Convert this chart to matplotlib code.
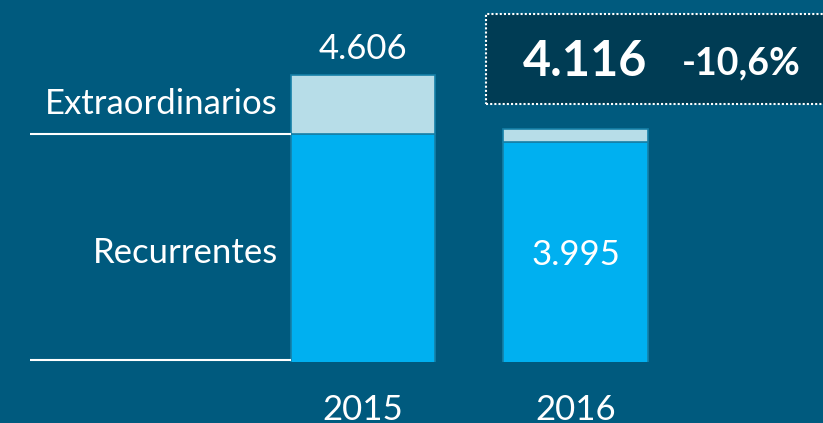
import matplotlib
matplotlib.use("Agg")
import matplotlib.pyplot as plt
from matplotlib.patches import Rectangle

# ===== DATA =====
years = ["2015", "2016"]
recurrentes = [4.07, 3.995]
extraordinarios = [0.536, 0.121]
totals = ["4.606", "4.116"]
rec_label_2016 = "3.995"
change = "-10,6%"
base = 2.0  # axis starts here (broken scale in original)

# ===== STYLE =====
BG = "#005a7e"
BLUE = "#00b0f0"
LIGHT = "#b7dde8"
EDGE = "#1580a8"
BOX = "#003c54"
plt.rcParams["font.family"] = ["Lato", "DejaVu Sans"]
FS = 25

W, H = 823, 423
fig = plt.figure(figsize=(W / 100, H / 100), dpi=100, facecolor=BG)

# axes: bottom edge at bar baseline
px_per_x = 212.5
px_per_y = 110.2
bottom_px = 361.7
ax = fig.add_axes([0, (H - bottom_px) / H, 1, bottom_px / H])
ax.set_facecolor(BG)
x0_px = 363
ax.set_xlim(-x0_px / px_per_x, (W - x0_px) / px_per_x)
ax.set_ylim(base, base + bottom_px / px_per_y)
ax.axis("off")

x = [0, 1]
width = 0.682
ax.bar(x, recurrentes, width=width, color=BLUE, edgecolor=EDGE, linewidth=1.2)
ax.bar(x, extraordinarios, width=width, bottom=recurrentes, color=LIGHT,
       edgecolor=EDGE, linewidth=1.2)

# guide lines on the left
left = -1.565
ax.plot([left, x[0] - width / 2], [recurrentes[0], recurrentes[0]],
        color="white", lw=1.5, solid_capstyle="butt")
ax.plot([left, x[0] - width / 2], [base + 0.018, base + 0.018],
        color="white", lw=1.5, solid_capstyle="butt", clip_on=False)

# labels
ax.text(x[0] - width / 2 - 0.06, recurrentes[0] + extraordinarios[0] / 2,
        "Extraordinarios", color="white", fontsize=FS, ha="right", va="center")
ax.text(x[0] - width / 2 - 0.06, (base + recurrentes[0]) / 2 - 0.053,
        "Recurrentes", color="white", fontsize=FS, ha="right", va="center")
ax.text(x[0], recurrentes[0] + extraordinarios[0] + 0.086, totals[0],
        color="white", fontsize=FS, ha="center", va="bottom")
ax.text(x[1], (base + recurrentes[1]) / 2 - 0.025, rec_label_2016,
        color="white", fontsize=FS, ha="center", va="center")

for xi, yr in zip(x, years):
    ax.text(xi, base - 0.29, yr, color="white", fontsize=FS, ha="center",
            va="top", clip_on=False)

# highlighted total box
fig.patches.append(Rectangle((486 / W, (H - 104) / H), 340 / W, 90 / H,
                             transform=fig.transFigure, facecolor=BOX,
                             edgecolor="white", linestyle=(0, (1, 1)), lw=1.5))
fig.text(585 / W, (H - 61) / H, totals[1], color="white", fontsize=35,
         fontweight="bold", ha="center", va="center")
fig.text(741 / W, (H - 63) / H, change, color="white", fontsize=27,
         fontweight="bold", ha="center", va="center")

fig.savefig("out.png", dpi=100, facecolor=BG)
